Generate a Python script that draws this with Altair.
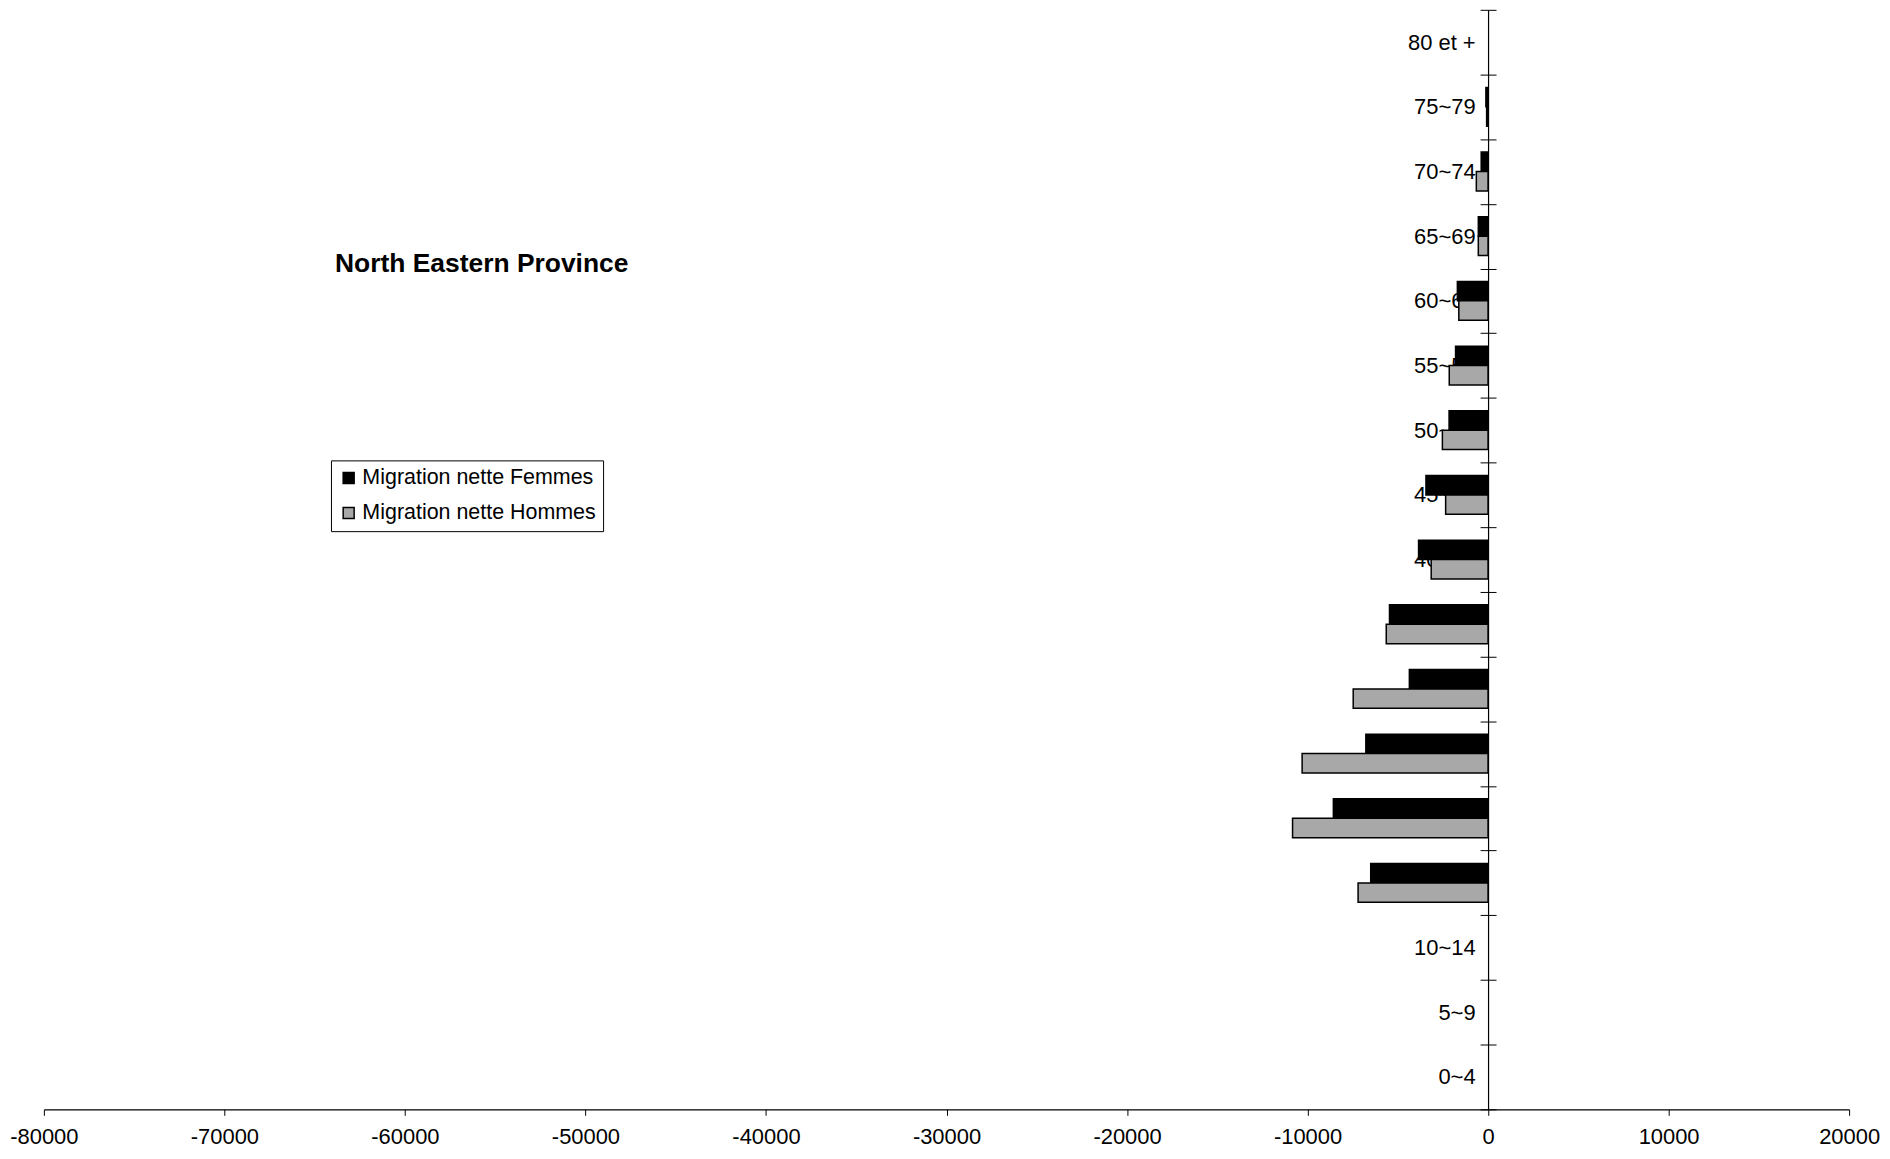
import altair as alt
import pandas as pd

ages = ["80 et +", "75~79", "70~74", "65~69", "60~64", "55~59", "50~54", "45~49",
        "40~44", "35~39", "30~34", "25~29", "20~24", "15~19", "10~14", "5~9", "0~4"]
femmes = [None, -120, -380, -540, -1700, -1800, -2160, -3440, -3850, -5460, -4360,
          -6770, -8570, -6500, None, None, None]
hommes = [None, -80, -650, -540, -1620, -2150, -2530, -2350, -3150, -5640, -7470,
          -10300, -10830, -7200, None, None, None]
series = ["Migration nette Femmes", "Migration nette Hommes"]
x_ticks = [-80000, -70000, -60000, -50000, -40000, -30000, -20000, -10000, 0, 10000, 20000]
title_text = "North Eastern Province"

rows = []
for a, f, h in zip(ages, femmes, hommes):
    rows.append({"age": a, "sex": series[0], "value": f})
    rows.append({"age": a, "sex": series[1], "value": h})
df = pd.DataFrame(rows)

FONT = "Liberation Sans"
W, H = 1811, 1103
XMIN, XMAX = x_ticks[0], x_ticks[-1]
zero_frac = (0 - XMIN) / (XMAX - XMIN)

xenc = alt.X("value:Q",
             scale=alt.Scale(domain=[XMIN, XMAX], nice=False, zero=False),
             axis=alt.Axis(values=x_ticks, labelExpr="'' + datum.value", title=None,
                           grid=False, tickSize=6, labelPadding=11, labelFontSize=22,
                           labelFont=FONT, labelColor="black", domainColor="black",
                           tickColor="black", labelFlush=False, domainWidth=1.2))

yscale = alt.Scale(domain=ages, paddingInner=0, paddingOuter=0)

bars = alt.Chart(df).transform_filter("isValid(datum.value)").mark_bar(
    stroke="black", strokeWidth=1.5, opacity=1
).encode(
    x=xenc,
    y=alt.Y("age:N", sort=ages, scale=yscale,
            axis=alt.Axis(orient="left", offset=-zero_frac * W, title=None,
                          tickBand="extent", tickSize=8, labelPadding=5,
                          labelFontSize=22, labelFont=FONT, labelColor="black",
                          domainColor="black", tickColor="black", domainWidth=1.2)),
    yOffset=alt.YOffset("sex:N", sort=series,
                        scale=alt.Scale(paddingInner=0, paddingOuter=0.667)),
    color=alt.Color("sex:N",
                    scale=alt.Scale(domain=series, range=["#000000", "#a8a8a8"]),
                    legend=alt.Legend(orient="none", legendX=288, legendY=452, title=None,
                                      strokeColor="black", fillColor="white", padding=7,
                                      symbolType="square", symbolSize=121,
                                      symbolStrokeColor="black", symbolStrokeWidth=1.5,
                                      labelFontSize=21.5, labelFont=FONT, labelColor="black",
                                      labelLimit=600, rowPadding=12, labelOffset=3)),
)

ticks_right = alt.Chart(pd.DataFrame({"age": ages})).mark_tick(opacity=0).encode(
    y=alt.Y("age:N", sort=ages, scale=yscale,
            axis=alt.Axis(orient="right", offset=-(1 - zero_frac) * W, title=None,
                          tickBand="extent", tickSize=8, labels=False, domain=False,
                          tickColor="black")),
)

chart = alt.layer(bars, ticks_right).resolve_scale(y="independent").properties(
    width=W, height=H,
    autosize=alt.AutoSizeParams(type="none"),
    padding={"left": 36, "top": 0, "right": 33, "bottom": 40},
    background="white",
    title=alt.TitleParams(title_text, anchor="start", frame="group", dx=292, dy=301,
                          offset=0, baseline="alphabetic", fontSize=26.5,
                          fontWeight="bold", font=FONT, color="black"),
).configure_view(strokeWidth=0, stroke="transparent")

chart.save("out.html", embed_options={"renderer": "svg", "actions": False})
